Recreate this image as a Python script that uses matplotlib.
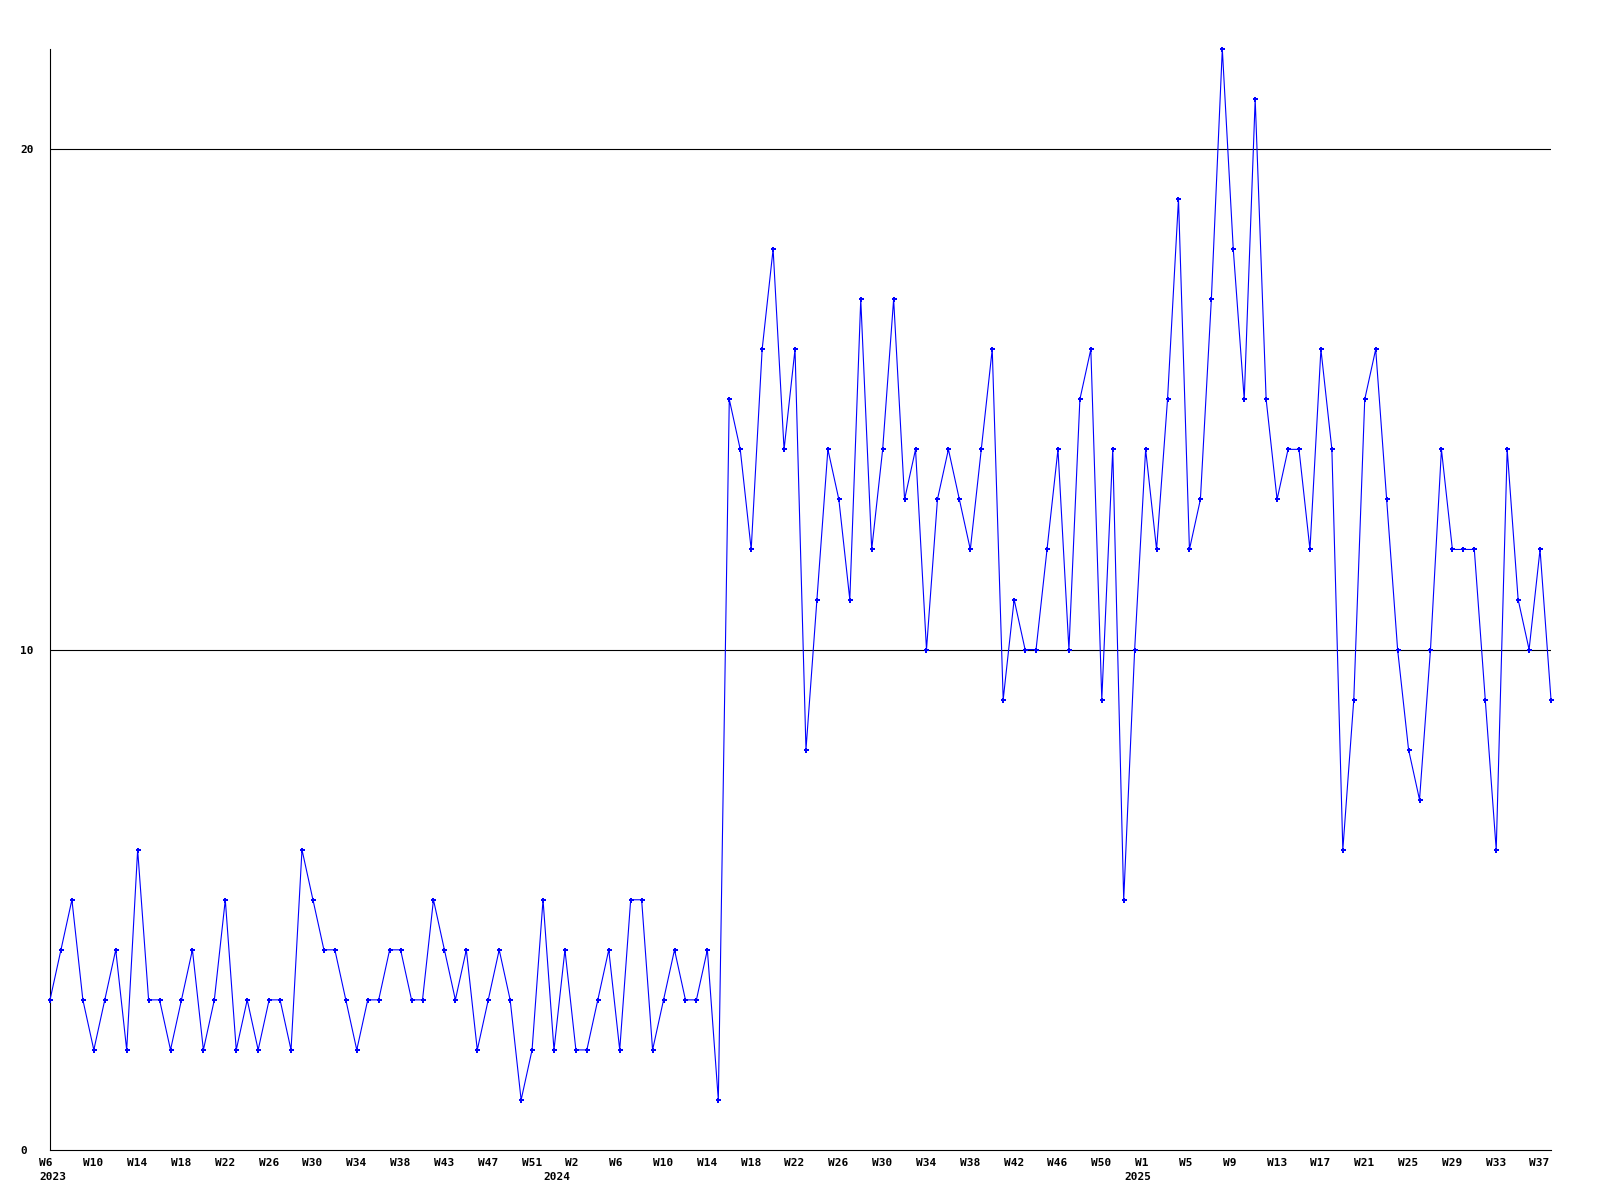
import matplotlib
matplotlib.use("Agg")
import matplotlib.pyplot as plt
import numpy as np

# weekly counts, split where the year labels sit on the axis
counts_2023 = [3, 4, 5, 3, 2, 3, 4, 2, 6, 3, 3, 2, 3, 4, 2, 3, 5, 2, 3, 2,
               3, 3, 2, 6, 5, 4, 4, 3, 2, 3, 3, 4, 4, 3, 3, 5, 4, 3, 4, 2,
               3, 4, 3, 1, 2, 5]
counts_2024 = [2, 4, 2, 2, 3, 4, 2, 5, 5, 2, 3, 4, 3, 3, 4, 1,
               15, 14, 12, 16, 18, 14, 16, 8, 11, 14, 13, 11, 17, 12, 14, 17,
               13, 14, 10, 13, 14, 13, 12, 14, 16, 9, 11,
               10, 10, 12, 14, 10, 15, 16, 9, 14, 5]
counts_2025 = [10, 14, 12, 15, 19, 12, 13, 17, 22, 18, 15, 21, 15, 13, 14, 14,
               12, 16, 14, 6, 9, 15, 16, 13, 10, 8, 7, 10, 14, 12, 12, 12,
               9, 6, 14, 11, 10, 12, 9]

week_labels = ["W6", "W10", "W14", "W18", "W22", "W26", "W30", "W34", "W38",
               "W43", "W47", "W51",
               "W2", "W6", "W10", "W14", "W18", "W22", "W26", "W30", "W34",
               "W38", "W42", "W46", "W50",
               "W1", "W5", "W9", "W13", "W17", "W21", "W25", "W29", "W33", "W37"]
label_step = 4
year_labels = ["2023", "2024", "2025"]
y_ticks = [0, 10, 20]

counts = np.array(counts_2023 + counts_2024 + counts_2025)
x = np.arange(len(counts))
year_pos = [0, len(counts_2023), len(counts_2023) + len(counts_2024)]

fig = plt.figure(figsize=(16, 12), dpi=100)
ax = fig.add_axes([50 / 1600, 1 - 1150 / 1200, 1501 / 1600, 1101 / 1200])

for yv in y_ticks[1:]:
    ax.axhline(yv, color="black", lw=0.8, zorder=1)

ax.plot(x, counts, color="#0000ff", lw=0.8, marker="P", ms=3.6,
        mew=0, zorder=3, clip_on=False)

ax.set_xlim(0, len(counts) - 1)
ax.set_ylim(0, max(counts))

for s in ["top", "right"]:
    ax.spines[s].set_visible(False)
for s in ["left", "bottom"]:
    ax.spines[s].set_linewidth(0.8)
    ax.spines[s].set_color("black")

font = dict(family="DejaVu Sans Mono", weight="bold", size=8)

ax.set_xticks([])
ax.set_yticks(y_ticks)
ax.set_yticklabels([str(v) for v in y_ticks], ha="left", **font)
ax.tick_params(axis="y", length=0, pad=21.6)

for i, lab in enumerate(week_labels):
    ax.annotate(lab, xy=(i * label_step, 0), xycoords=("data", "axes fraction"),
                xytext=(-7.6, -5.6), textcoords="offset points",
                ha="left", va="top", **font)
for pos, lab in zip(year_pos, year_labels):
    ax.annotate(lab, xy=(pos, 0), xycoords=("data", "axes fraction"),
                xytext=(-7.6, -16.0), textcoords="offset points",
                ha="left", va="top", **font)

fig.savefig("out.png", dpi=100)
